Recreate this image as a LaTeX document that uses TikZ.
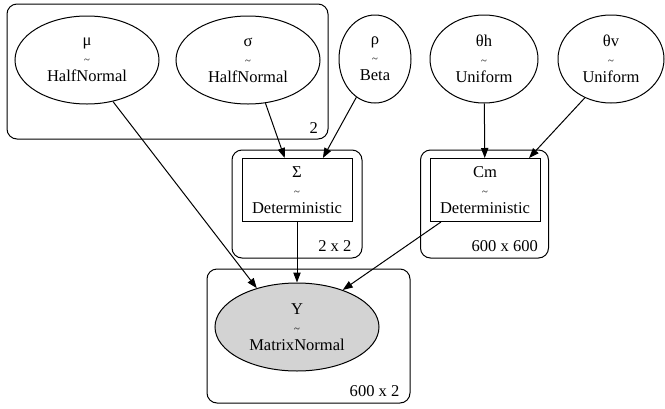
\documentclass[tikz,border=0pt]{standalone}
\usepackage{fontspec}
\setmainfont{Liberation Serif}
\usetikzlibrary{shapes,arrows.meta,positioning}

\newcommand{\tildesym}{{\footnotesize\textasciitilde}}

\begin{document}
\begin{tikzpicture}[->,>={Triangle[length=7.5pt,width=5.5pt]},
x=0.75pt,y=-0.75pt,line width=0.75pt,
font=\fontsize{12.4}{13.5}\selectfont]

\tikzstyle{rv}=[ellipse, draw, inner sep=0pt, align=center, minimum height=66pt]
\tikzstyle{det}=[rectangle, draw, inner sep=0pt, align=center,
minimum width=82.5pt, minimum height=47.25pt]
\tikzstyle{plate}=[rectangle, draw, rounded corners=7.5pt, inner sep=0pt]
\tikzstyle{platelabel}=[anchor=base east, inner sep=0pt]

\useasboundingbox (0,0) rectangle (665,408);

%plates
\node[plate, minimum width=240.75pt, minimum height=101.25pt]
(ptwo) at (167.5,71.5) {};
\node[plate, minimum width=97.5pt, minimum height=81pt]
(ptwobytwo) at (297,204) {};
\node[plate, minimum width=96pt, minimum height=81pt]
(psixbysix) at (484.5,204) {};
\node[plate, minimum width=152.25pt, minimum height=100.5pt]
(psixbytwo) at (308.5,336) {};

\node[platelabel] (lptwo) at ([xshift=-7.5pt, yshift=4.5pt]ptwo.south east) {2};
\node[platelabel] (lptwobytwo) at ([xshift=-8pt, yshift=5pt]ptwobytwo.south east) {2 x 2};
\node[platelabel] (lpsixbysix) at ([xshift=-8pt, yshift=5pt]psixbysix.south east) {600 x 600};
\node[platelabel] (lpsixbytwo) at ([xshift=-8pt, yshift=5pt]psixbytwo.south east) {600 x 2};

%free variables
\node[rv, minimum width=108pt]
(mu) at (87,60)
{μ\\\tildesym\\HalfNormal};

\node[rv, minimum width=108pt]
(sigma) at (248,60)
{σ\\\tildesym\\HalfNormal};

\node[rv, minimum width=54pt]
(rho) at (375,59)
{ρ\\\tildesym\\Beta};

\node[rv, minimum width=81pt]
(thetah) at (484,59)
{θh\\\tildesym\\Uniform};

\node[rv, minimum width=79.5pt]
(thetav) at (611,59)
{θv\\\tildesym\\Uniform};

%deterministics
\node[det]
(Sigma) at (297,190)
{Σ\\\tildesym\\Deterministic};

\node[det]
(Cm) at (485,190)
{Cm\\\tildesym\\Deterministic};

%observed
\node[rv, fill={rgb,255:red,211;green,211;blue,211}, minimum width=123pt]
(Y) at (297,327)
{Y\\\tildesym\\MatrixNormal};

\path (mu.-58) edge (Y.136);
\path (sigma.-68) edge (Sigma.111);
\path (rho.-116) edge (Sigma.51);
\path (thetah) edge (Cm);
\path (thetav.-124) edge (Cm.36);
\path (Sigma) edge (Y);
\path (Cm.-144) edge (Y.39);

\end{tikzpicture}
\end{document}
